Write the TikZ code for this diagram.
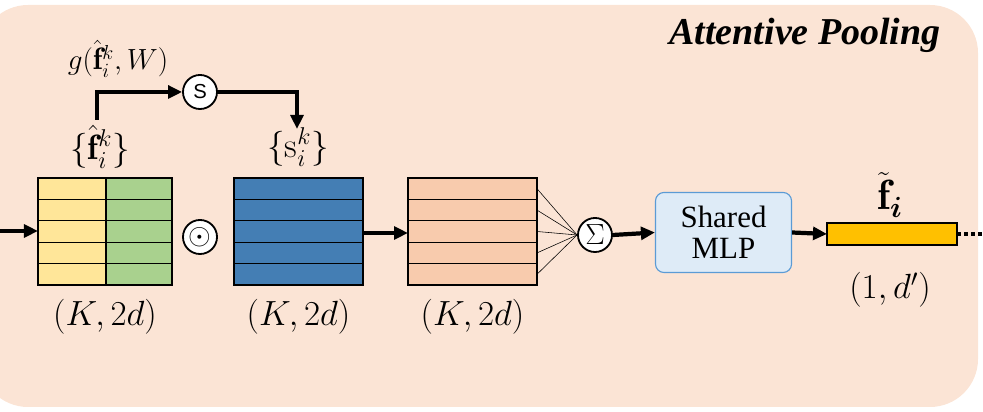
\documentclass[tikz,border=0pt]{standalone}
\usepackage{amsmath}
\usepackage{amssymb}
\usepackage{bm}
\usepackage{fontspec}
\newfontfamily\tnr{Liberation Serif}
\newfontfamily\sns{Liberation Sans}
\usetikzlibrary{arrows.meta,calc,positioning}
\definecolor{bgpeach}{RGB}{251,228,213}
\definecolor{cyel}{RGB}{255,230,153}
\definecolor{cgrn}{RGB}{169,209,142}
\definecolor{cblu}{RGB}{68,126,180}
\definecolor{cpch}{RGB}{248,203,173}
\definecolor{corg}{RGB}{255,192,0}
\definecolor{cmlp}{RGB}{222,235,247}
\definecolor{cmlpb}{RGB}{91,155,213}
\tikzset{
  conn/.style={line width=3pt,-{Triangle[length=3.5mm,width=3.2mm]}},
  op/.style={circle,draw,line width=1.3pt,fill=white,minimum size=0.85cm,inner sep=0pt},
  lbl/.style={font=\fontsize{25}{27}\selectfont},
}
\begin{document}
\begin{tikzpicture}[x=0.025cm,y=0.025cm]
            \useasboundingbox (0,0) rectangle (983,412);
            \fill[bgpeach,rounded corners=1.2cm] (-20,5) rectangle (978,407);
            \node[font=\fontsize{27}{29}\selectfont\tnr\bfseries\itshape] (title) at (805,377) {Attentive Pooling};
            % feature blocks
            \fill[cyel] (38,127) rectangle (106,234);
            \fill[cgrn] (106,127) rectangle (172,234);
            \fill[cblu] (234,127) rectangle (363,234);
            \fill[cpch] (408,127) rectangle (537,234);
            \foreach \x/\w in {38/172,234/363,408/537} {
              \foreach \k in {1,...,4}
              \draw[thick] (\x,127+\k*21.4) -- (\w,127+\k*21.4);
              \draw[thick] (\x,127) rectangle (\w,234);
            }
            \draw[thick] (106,127) -- (106,234);
            \node[op,font=\huge] (dot) at (200,175) {$\odot$};
            \node[op,font=\Large\sns] (sig) at (200,320) {S};
            \node[op,font=\huge] (sum) at (595,177) {$\Sigma$};
            \node[draw=cmlpb,fill=cmlp,thick,rounded corners=6pt,minimum width=3.4cm,minimum height=2cm,align=center,font=\fontsize{22}{24}\selectfont\tnr] (mlp) at (723.5,179.5) {Shared\\[-2pt]MLP};
            \fill[corg,draw=black,thick] (827,167) rectangle (957,189);
            \coordinate (out) at (827,178);
            \coordinate (in) at (0,181);
            \coordinate (dots) at (983,178);
            % labels
            \node[lbl] (fk) at (100,265) {$\{\hat{\mathbf{f}}_i^k\}$};
            \node[lbl] (sk) at (298,265) {$\{\mathrm{s}_i^k\}$};
            \node[lbl,font=\fontsize{22}{24}\selectfont] (g) at (118,353) {$g(\hat{\mathbf{f}}_i^k,W)$};
            \node[font=\fontsize{30}{32}\selectfont] (ft) at (890,217) {$\tilde{\mathbf{f}}_{\bm{i}}$};
            \node[lbl] (d1) at (890,122) {$(1,d')$};
            \foreach \b/\x in {l1/105,l2/298.5,l3/472.5}
            \node[lbl] (\b) at (\x,95) {$(K,2d)$};
            % connectors
            \draw[conn] (in) -- (38,181);
            \draw[conn] (97,292) |- (sig.west);
            \draw[conn] (sig.east) -| (297,283);
            \draw[conn] (363,179) -- (408,179);
            \foreach \k in {0,...,4}
            \draw (537,137.7+\k*21.4) -- (sum.west);
            \draw[conn] (sum.east) -- (mlp.west);
            \draw[conn] (mlp.east) -- (out);
            \draw[line width=3pt,dotted] (957,178) -- (dots);
\end{tikzpicture}
\end{document}
